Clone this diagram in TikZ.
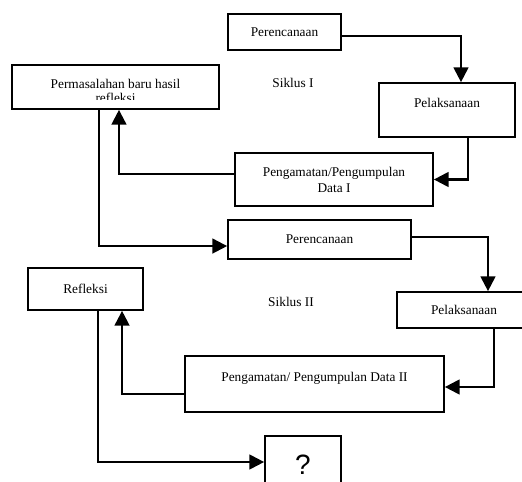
\documentclass[tikz,border=0pt]{standalone}
\usepackage{fontspec}
\setmainfont{Liberation Serif}
\newfontfamily\qfont{Liberation Sans}
\usetikzlibrary{arrows.meta}

\tikzset{
    box/.style={draw, line width=1.3pt, rectangle, inner sep=2pt, align=center, font=\fontsize{10}{12}\selectfont},
    arr/.style={line width=1.6pt, -{Triangle[width=11pt,length=11pt]}},
    siklus/.style={font=\fontsize{10}{12}\selectfont}
}

\begin{document}
\begin{tikzpicture}[x=0.75pt, y=-0.75pt]
    \clip (0,0) rectangle (522,482);
    \fill[white] (0,0) rectangle (522,482);

    % Siklus I
    \node[box, minimum width=84.75pt, minimum height=27pt] (per1) at (284.5,32) {Perencanaan};
    \node[box, minimum width=102pt, minimum height=40.5pt] (pel1) at (447,110) {Pelaksanaan\\[-1pt]\mbox{}};
    \node[box, minimum width=148.5pt, minimum height=39.75pt] (peng1) at (334,179.5) {Pengamatan/Pengumpulan\\Data I};
    \node[box, minimum width=155.25pt, minimum height=33pt] (perm) at (115.5,87) {};
    \begin{scope}
        \clip (perm.north west) rectangle (219,99);
        \node[align=center, font=\fontsize{10}{10.5}\selectfont] (permtext) at (115.5,91) {Permasalahan baru hasil\\refleksi};
    \end{scope}
    \node[siklus] (s1) at (293,83) {Siklus I};

    % Siklus II
    \node[box, minimum width=137.25pt, minimum height=29.25pt] (per2) at (319.5,239.5) {Perencanaan};
    \node[box, minimum width=100.5pt, minimum height=27pt] (pel2) at (464,310) {Pelaksanaan};
    \node[box, minimum width=194.25pt, minimum height=42pt] (peng2) at (314.5,384) {Pengamatan/ Pengumpulan Data II\\[-1pt]\mbox{}};
    \node[box, minimum width=86.25pt, minimum height=31.5pt] (refl) at (85.5,289) {Refleksi};
    \node[box, minimum width=57pt, minimum height=43.5pt, font=\qfont\fontsize{21}{24}\selectfont] (q) at (303,465) {?};
    \node[siklus] (s2) at (291,302) {Siklus II};

    % Arrows
    \draw[arr] ([yshift=-3pt]per1.east) -| ([xshift=10.5pt]pel1.north);
    \draw[arr] ([xshift=15.75pt]pel1.south) |- (peng1.east);
    \draw[arr] ([yshift=4pt]peng1.west) -| ([xshift=2.6pt]perm.south);
    \draw[arr] ([xshift=-12.4pt]perm.south) |- ([yshift=-4.9pt]per2.west);
    \draw[arr] ([yshift=1.9pt]per2.east) -| ([xshift=18pt]pel2.north);
    \draw[arr] ([xshift=22.5pt]pel2.south) |- ([yshift=-2.25pt]peng2.east);
    \draw[arr] ([yshift=-7.5pt]peng2.west) -| ([xshift=27.4pt]refl.south);
    \draw[arr] ([xshift=9.4pt]refl.south) |- ([yshift=2.25pt]q.west);
\end{tikzpicture}
\end{document}
